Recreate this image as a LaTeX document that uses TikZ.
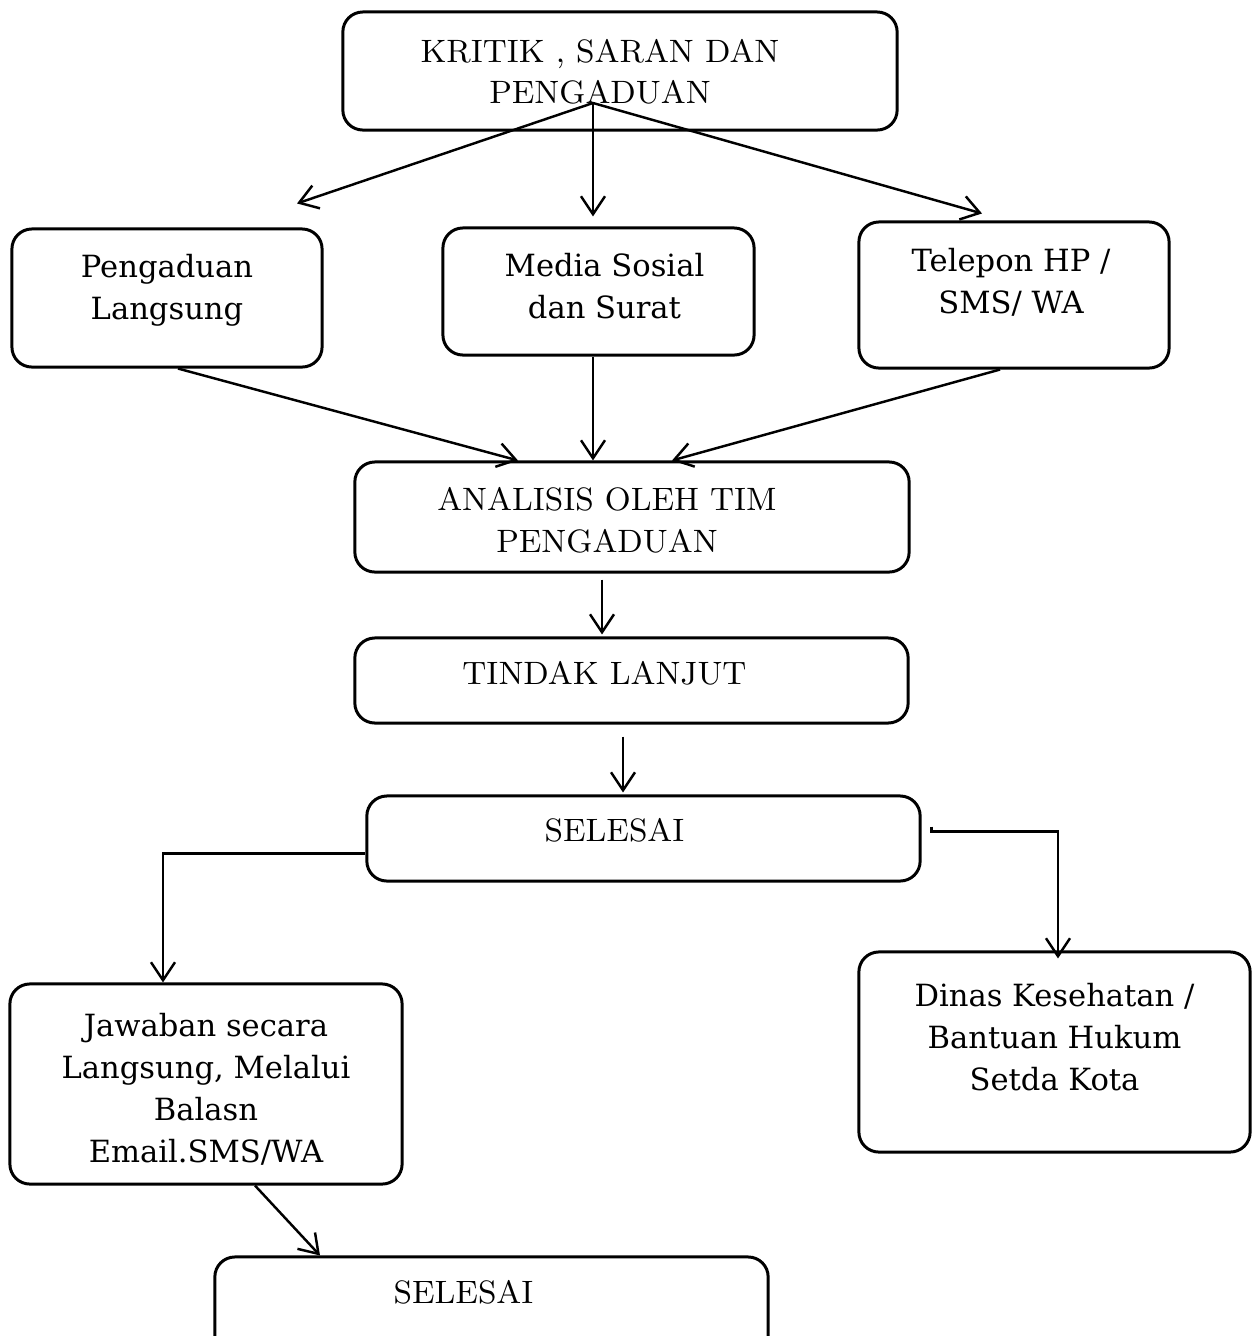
\documentclass[tikz,border=0pt]{standalone}
\usepackage{fontspec}
\newfontfamily\bookfont{DejaVu Serif}
\usepackage{tikz}
\usetikzlibrary{positioning, calc, arrows.meta}

% text lines of a box, moved by (#1,#2) from its centre
\newcommand{\boxlines}[3]{\raisebox{#2}[0pt][0pt]{\makebox[0pt]{\hspace*{#1}\hspace*{#1}\begin{tabular}{@{}c@{}}#3\end{tabular}}}}

\tikzset{box/.style={draw, rounded corners=0.2cm, line width=0.85pt, inner sep=0pt}}
\tikzset{capsbox/.style={box, font=\fontsize{9.2}{11.9}\selectfont}}
\tikzset{wordbox/.style={box, font=\bookfont\fontsize{8.7}{11.9}\selectfont}}
\tikzset{flow/.style={line width=0.7pt, -{Straight Barb[length=1.8mm, width=2.4mm]}}}

\begin{document}
\begin{tikzpicture}[x=0.01cm, y=-0.01cm]

      \useasboundingbox (0,0) rectangle (1253,1336);

      % BOXES

      \node[capsbox, minimum width=5.54cm, minimum height=1.18cm] (kritik) at (620,71)
        {\boxlines{-0.20cm}{-0.115cm}{KRITIK , SARAN DAN\\PENGADUAN}};

      \node[wordbox, minimum width=3.10cm, minimum height=1.38cm] (pengaduan) at (167,298)
        {\boxlines{0cm}{0cm}{Pengaduan\\Langsung}};
      \node[wordbox, minimum width=3.11cm, minimum height=1.27cm] (media) at (598.5,291.5)
        {\boxlines{0.06cm}{-0.055cm}{Media Sosial\\dan Surat}};
      \node[wordbox, minimum width=3.10cm, minimum height=1.46cm] (telepon) at (1014,295)
        {\boxlines{-0.03cm}{0.03cm}{Telepon HP /\\SMS/ WA}};

      \node[capsbox, minimum width=5.54cm, minimum height=1.10cm] (analisis) at (632,517)
        {\boxlines{-0.25cm}{-0.14cm}{ANALISIS OLEH TIM\\PENGADUAN}};
      \node[capsbox, minimum width=5.53cm, minimum height=0.85cm] (tindak) at (631.5,680.5)
        {\boxlines{-0.27cm}{-0.035cm}{TINDAK LANJUT}};
      \node[capsbox, minimum width=5.53cm, minimum height=0.85cm] (selesai) at (643.5,838.5)
        {\boxlines{-0.29cm}{-0.025cm}{SELESAI}};

      \node[wordbox, minimum width=3.92cm, minimum height=2.00cm] (jawaban) at (206,1084)
        {\boxlines{0cm}{-0.15cm}{Jawaban secara\\Langsung, Melalui\\Balasn\\Email.SMS/WA}};
      \node[wordbox, minimum width=3.91cm, minimum height=2.00cm] (dinas) at (1054.5,1052)
        {\boxlines{0cm}{0.04cm}{Dinas Kesehatan /\\Bantuan Hukum\\Setda Kota}};

      \node[capsbox, minimum width=5.53cm, minimum height=1.50cm] (selesai2) at (491.5,1332)
        {\boxlines{-0.28cm}{0.29cm}{SELESAI}};

      % ARROWS

      \coordinate (fan) at ($(kritik.center)+(-27,32)$);
      \draw[flow] (fan) -- ($(pengaduan.north)+(130,-24)$);
      \draw[flow] (fan) -- ($(media.north)+(-5.5,-10)$);
      \draw[flow] (fan) -- ($(telepon.north)+(-32,-7)$);

      \draw[flow] ($(pengaduan.south)+(11,0)$) -- ($(analisis.north)+(-114,0)$);
      \draw[flow] ($(media.south)+(-5.5,0)$) -- ($(analisis.north)+(-39,0)$);
      \draw[flow] ($(telepon.south)+(-14,0)$) -- ($(analisis.north)+(40,0)$);

      \draw[flow] ($(analisis.south)+(-30,6)$) -- ($(tindak.north)+(-29.5,-2)$);
      \draw[flow] ($(tindak.south)+(-8.5,12)$) -- ($(selesai.north)+(-20.5,-2)$);

      \draw[flow] ($(selesai.west)+(0,15)$) -| ($(jawaban.north)+(-43,0)$);
      \draw[flow] ($(selesai.east)+(10,-12)$) -- ++(0,5) -| ($(dinas.north)+(3.5,8)$);

      \draw[flow] ($(jawaban.south)+(49,0)$) -- ($(selesai2.north)+(-171.5,0)$);

\end{tikzpicture}
\end{document}
